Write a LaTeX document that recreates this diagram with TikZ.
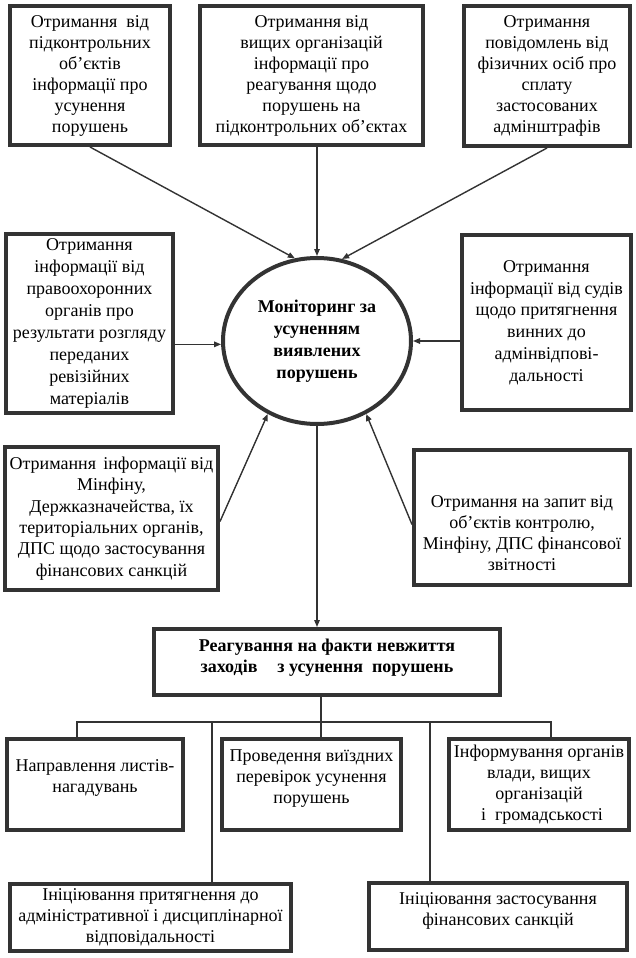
\documentclass[tikz,border=0pt]{standalone}
\usepackage{fontspec}
\setmainfont{Liberation Serif}
\usetikzlibrary{shapes.geometric,arrows.meta}
\definecolor{linec}{HTML}{333333}
\newcommand\bxfont{\fontsize{18}{21}\selectfont}
\begin{document}
\begin{tikzpicture}[x=1pt,y=-1pt,
  box/.style={draw=linec, line width=4pt, rectangle, inner sep=0pt, align=center, font=\bxfont},
  txt/.style={align=center, inner sep=0pt, font=\bxfont},
  conn/.style={draw=linec, line width=1.4pt},
  arr/.style={conn, -{Triangle[length=7pt,width=5.5pt]}},
]
\fill[white] (0,0) rectangle (636,958);
\useasboundingbox (0,0) rectangle (636,958);

% top row
\node[box, minimum width=160pt, minimum height=139pt] (b1) at (90,75.5)
  {Отримання\hspace{0.5em}від\\підконтрольних\\об’єктів\\інформації про\\усунення\\порушень};
\node[box, minimum width=223pt, minimum height=139pt] (b2) at (311.5,75.5)
  {Отримання від\\вищих організацій\\інформації про\\реагування щодо\\порушень на\\підконтрольних об’єктах};
\node[box, minimum width=166pt, minimum height=140pt] (b3) at (547,76)
  {Отримання\\повідомлень від\\фізичних осіб про\\сплату\\застосованих\\адмінштрафів};

% middle
\node[box, minimum width=167pt, minimum height=179pt, font=\fontsize{18}{22}\selectfont] (b4) at (89.5,323.5)
  {Отримання\\інформації від\\правоохоронних\\органів про\\результати розгляду\\переданих\\ревізійних\\матеріалів};
\node[box, minimum width=169pt, minimum height=175pt, font=\fontsize{18}{21.8}\selectfont] (b5) at (546.5,322.5)
  {Отримання\\інформації від судів\\щодо притягнення\\винних до\\адмінвідпові-\\дальності};
\node[ellipse, draw=linec, line width=4pt, minimum width=188pt, minimum height=166pt, inner sep=0pt,
      align=center, font=\fontsize{18}{22}\selectfont\bfseries] (ell) at (317,341)
  {Моніторинг за\\усуненням\\виявлених\\порушень};

\node[box, minimum width=213pt, minimum height=143pt, font=\fontsize{18}{21.4}\selectfont] (b6) at (111.5,518.5)
  {Отримання\hspace{0.4em}інформації від\\Мінфіну,\\Держказначейства, їх\\територіальних органів,\\ДПС щодо застосування\\фінансових санкцій};
\node[box, minimum width=216pt, minimum height=135pt] (b7) at (522,517.5) {};
\node[txt] (t7) at (522,533)
  {Отримання на запит від\\об’єктів контролю,\\Мінфіну, ДПС фінансової\\звітності};

% reaction box
\node[box, minimum width=346pt, minimum height=66pt] (b8) at (327,662) {};
\node[txt, font=\bxfont\bfseries] (t8) at (327,657.5)
  {Реагування на факти невжиття\\заходів\hspace{1.1em}з усунення\hspace{0.5em}порушень};

% bottom boxes
\node[box, minimum width=176pt, minimum height=91pt] (b9) at (95,784.5) {};
\node[txt] (t9) at (95,777.5) {Направлення листів-\\нагадувань};
\node[box, minimum width=179pt, minimum height=91pt] (b10) at (311.5,784.5) {};
\node[txt] (t10) at (311.5,779) {Проведення виїздних\\перевірок усунення\\порушень};
\node[box, minimum width=180pt, minimum height=91pt] (b11) at (539,784.5)
  {Інформування органів\\влади, вищих\\організацій\hspace*{26pt}\\\hspace*{6pt}і\hspace{0.5em}громадськості};
\node[box, minimum width=281pt, minimum height=67pt] (b12) at (150.5,917.5)
  {Ініціювання притягнення до\\адміністративної і дисциплінарної\\відповідальності};
\node[box, minimum width=258pt, minimum height=67pt] (b13) at (498,916.5) {};
\node[txt] (t13) at (498,911) {Ініціювання застосування\\фінансових санкцій};

% arrows into the ellipse
\draw[arr] (b1.south) -- (ell.105);
\draw[arr] (ell.north |- b2.south) -- (ell.north);
\draw[arr] (b3.south) -- (ell.73);
\draw[arr] (b4.east |- ell.182) -- (ell.182);
\draw[arr] (b5.west |- ell.east) -- (ell.east);
\draw[arr] ([yshift=-3pt]b6.east) -- (ell.236);
\draw[arr] ([yshift=-7pt]b7.west) -- (ell.304);
\draw[arr] (ell.south) -- (ell.south |- b8.north);

% tree below the reaction box
\coordinate (jc) at (321,722);
\coordinate (jl) at (77,722);
\coordinate (jr) at (551,722);
\coordinate (j12) at (212,722);
\coordinate (j13) at (430,722);
\draw[conn] (jc |- b8.south) -- (jc |- b10.north);
\draw[conn] (jl |- b9.north) -- (jl) -- (jr) -- (jr |- b11.north);
\draw[conn] (j12) -- (j12 |- b12.north);
\draw[conn] (j13) -- (j13 |- b13.north);
\end{tikzpicture}
\end{document}
